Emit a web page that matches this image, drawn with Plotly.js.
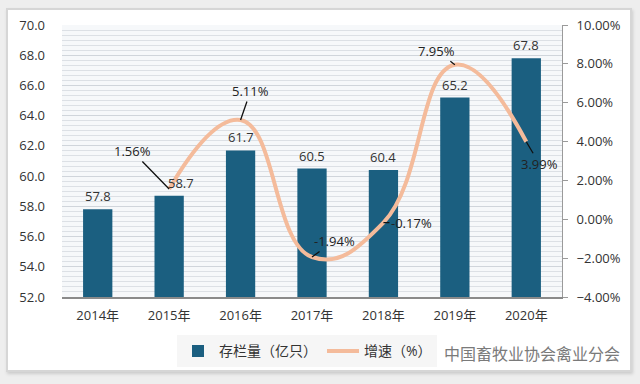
<!DOCTYPE html>
<html><head><meta charset="utf-8">
<script src="https://cdn.plot.ly/plotly-3.0.1.min.js"></script>
<style>
html,body{margin:0;padding:0;background:#eeeeee;width:640px;height:384px;overflow:hidden}
#frame{position:absolute;left:6px;top:8px;width:622px;height:360px;background:#fff;border:2px solid #d6d6d6;box-shadow:1px 2px 3px #ccc}
#chart{position:absolute;left:0;top:0;width:640px;height:384px}
</style></head>
<body>
<div id="frame"></div>
<div id="chart"></div>
<script>
const years = ['2014年','2015年','2016年','2017年','2018年','2019年','2020年'];
const stock = [57.8, 58.7, 61.7, 60.5, 60.4, 65.2, 67.8];
const growthYears = ['2015年','2016年','2017年','2018年','2019年','2020年'];
const growth = [1.56, 5.11, -1.94, -0.17, 7.95, 3.99];
const barName = '存栏量（亿只）';
const lineName = '增速（%）';
const watermark = '中国畜牧业协会禽业分会';

// label offsets (px) – styling only
const barLabelShift = [0, 12, 0, 0, 0, 0, 0];
const growthLabelAx = [-37, 10, 22, 28, -18, 13];
const growthLabelAy = [-38, -29, -16, 0, -14, 22];

const font = "'Open Sans','Noto Sans CJK SC',sans-serif";

const bars = {
  type: 'bar', x: years, y: stock, name: barName,
  marker: {color: '#1b5f80', line: {width: 0}},
  hoverinfo: 'skip'
};
const line = {
  type: 'scatter', mode: 'lines', x: growthYears, y: growth, yaxis: 'y2', name: lineName,
  line: {color: '#f4bb9b', width: 4, shape: 'spline', smoothing: 1.3},
  hoverinfo: 'skip'
};

const annotations = [];
stock.forEach((v, i) => annotations.push({
  x: years[i], y: v, xref: 'x', yref: 'y', text: v.toFixed(1), showarrow: false,
  yanchor: 'bottom', yshift: 2, xshift: barLabelShift[i],
  font: {size: 13, color: '#333', family: font}
}));
growth.forEach((v, i) => annotations.push({
  x: growthYears[i], y: v, xref: 'x', yref: 'y2', text: v.toFixed(2) + '%',
  showarrow: true, arrowhead: 0, arrowwidth: 1.3, arrowcolor: '#111',
  ax: growthLabelAx[i], ay: growthLabelAy[i], standoff: 0,
  font: {size: 13, color: '#222', family: font}
}));
annotations.push({
  xref: 'paper', yref: 'paper', x: 1.12, y: -0.21, xanchor: 'right', yanchor: 'middle',
  text: watermark, showarrow: false, font: {size: 16, color: '#7a7a7a', family: font}
});

const layout = {
  width: 640, height: 384,
  margin: {l: 62, r: 78, t: 25, b: 87},
  paper_bgcolor: 'rgba(0,0,0,0)', plot_bgcolor: '#f6f8fa',
  font: {family: font, size: 13, color: '#333'},
  bargap: 0.59,
  showlegend: true,
  legend: {orientation: 'h', x: 0.23, y: -0.2, xanchor: 'left', yanchor: 'middle',
    bgcolor: '#f6f6f6', font: {size: 14, color: '#333'}, itemwidth: 32, traceorder: 'normal'},
  xaxis: {
    showgrid: false, showline: true, linecolor: '#8a8a8a', linewidth: 1.5,
    ticks: '', tickfont: {size: 13, color: '#333'}, ticklabelstandoff: 6
  },
  yaxis: {
    range: [52, 70], dtick: 2, tickformat: '.1f', showline: false, zeroline: false,
    gridcolor: '#d0d5db', gridwidth: 1,
    minor: {dtick: 1/3, showgrid: true, gridcolor: '#dce0e5', gridwidth: 1},
    ticks: '', ticklabelstandoff: 16, tickfont: {size: 13, color: '#333'}
  },
  yaxis2: {
    overlaying: 'y', side: 'right', range: [-4, 10], dtick: 2,
    tickformat: '.2f', ticksuffix: '%', showgrid: false, zeroline: false,
    showline: true, linecolor: '#9a9a9a', linewidth: 1,
    ticks: 'outside', ticklen: 5, tickcolor: '#9a9a9a', ticklabelstandoff: 6,
    tickfont: {size: 13, color: '#333'}
  },
  annotations: annotations
};

Plotly.newPlot('chart', [bars, line], layout, {displayModeBar: false, staticPlot: true});
</script>
</body></html>
